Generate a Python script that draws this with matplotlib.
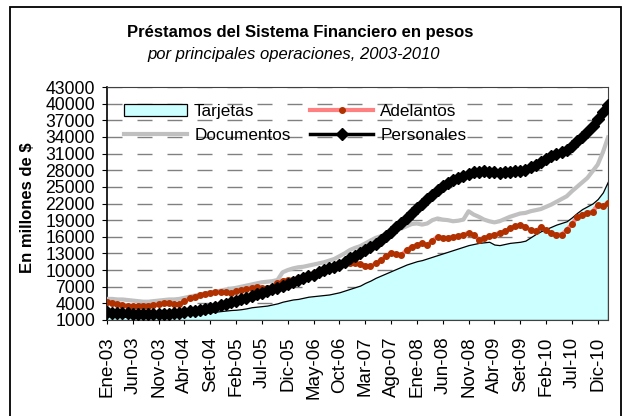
import numpy as np
import matplotlib
matplotlib.use("Agg")
import matplotlib.pyplot as plt
from matplotlib.patches import Rectangle

plt.rcParams['font.family'] = ['Liberation Sans', 'DejaVu Sans']

# monthly values, Ene-03 .. Feb-11 (millones de $)
tarjetas = [1700, 1650, 1600, 1600, 1550, 1550, 1550, 1600, 1600, 1650, 1700,
            1750, 1800, 1850, 1900, 1950, 2000, 2100, 2200, 2300, 2400,
            2500, 2600, 2700, 2800, 2850, 2950, 3100, 3300, 3400, 3500,
            3600, 3800, 4000, 4300, 4500, 4700, 4800, 5000, 5200, 5300,
            5400, 5500, 5600, 5800, 6000, 6300, 6600, 6900, 7200, 7700,
            8100, 8600, 9000, 9400, 9800, 10200, 10600, 11000, 11300, 11600,
            11800, 12100, 12400, 12700, 13000, 13300, 13600, 13900, 14200, 14500,
            14700, 14900, 15000, 15100, 14600, 14500, 14700, 14900, 15000, 15100,
            15300, 15900, 16500, 17000, 17400, 17800, 18200, 18500, 18800, 19500,
            20300, 21000, 21500, 22000, 22800, 24000, 26000]

adelantos = [4300, 4100, 3900, 3700, 3600, 3500, 3500, 3500, 3600, 3700, 3800,
             4000, 4100, 3900, 3800, 4400, 4900, 5100, 5500, 5700, 5800,
             6000, 6100, 6000, 5800, 6200, 6400, 6600, 6800, 7000, 6800,
             6700, 7000, 7600, 8100, 8250, 8300, 8500, 8800, 9100, 9400,
             9800, 10100, 10400, 10700, 11300, 11500, 11300, 11200, 11100, 10800,
             10700, 11200, 11800, 12500, 13000, 12900, 12700, 13600, 14200, 14500,
             14800, 14500, 15300, 16000, 15800, 15800, 16000, 16100, 16400, 16700,
             16300, 15500, 15700, 16100, 16400, 16700, 17000, 17500, 17900, 18100,
             17800, 17200, 17000, 17700, 17200, 16600, 16400, 16400, 17200, 18300,
             19500, 20000, 20300, 20500, 21700, 21600, 22100]

documentos = [4800, 4800, 4700, 4700, 4600, 4500, 4400, 4300, 4300, 4400, 4500,
              4600, 4700, 4700, 4800, 5000, 5200, 5400, 5600, 5800, 6000,
              6100, 6300, 6500, 6600, 6800, 7000, 7200, 7400, 7600, 7800,
              7900, 8000, 8200, 9600, 10000, 10300, 10500, 10600, 10800, 11000,
              11200, 11400, 11700, 12000, 12500, 13000, 13600, 14000, 14300, 14800,
              15300, 15800, 16100, 16500, 16900, 17200, 17500, 17900, 18300, 18400,
              18200, 18400, 19000, 19300, 19100, 19000, 18800, 18900, 19100, 20600,
              20000, 19600, 19100, 18800, 18600, 18800, 19200, 19600, 19900, 20200,
              20300, 20600, 20800, 21000, 21400, 21800, 22300, 22800, 23300, 24200,
              25000, 25800, 26600, 27800, 29000, 31200, 33900]

personales = [2400, 2350, 2300, 2250, 2200, 2150, 2100, 2050, 2000, 2000, 2050,
              2100, 2150, 2250, 2350, 2450, 2550, 2650, 2800, 3000, 3200,
              3400, 3650, 3900, 4200, 4450, 4750, 5050, 5350, 5650, 5950,
              6250, 6550, 6850, 7200, 7500, 7850, 8200, 8500, 8850, 9200,
              9600, 10000, 10300, 10600, 11000, 11500, 12100, 12600, 13100, 13600,
              14100, 14700, 15400, 16100, 16900, 17700, 18500, 19400, 20300, 21100,
              21900, 22800, 23600, 24400, 25100, 25700, 26200, 26600, 27000, 27300,
              27600, 27700, 27800, 27700, 27600, 27500, 27600, 27700, 27800, 27900,
              28100, 28500, 29000, 29500, 30000, 30500, 30900, 31300, 31700, 32400,
              33200, 34000, 34800, 36000, 37200, 38500, 39700]

tick_labels = ['Ene-03', 'Jun-03', 'Nov-03', 'Abr-04', 'Set-04', 'Feb-05', 'Jul-05',
               'Dic-05', 'May-06', 'Oct-06', 'Mar-07', 'Ago-07', 'Ene-08', 'Jun-08',
               'Nov-08', 'Abr-09', 'Set-09', 'Feb-10', 'Jul-10', 'Dic-10']

x = np.arange(len(personales))

fig = plt.figure(figsize=(6.28, 4.16), dpi=100)
ax = fig.add_axes([107/628, 1-320/416, 501/628, 233/416])

# outer chart border
fig.patches.append(Rectangle((10/628, -0.05), 611/628, 1.05-7/416, transform=fig.transFigure,
                             fill=False, edgecolor='black', linewidth=1.3))

area = ax.fill_between(x, 1000, tarjetas, facecolor='#CCFFFF', edgecolor='black',
                       linewidth=0.9, zorder=2)
doc_line, = ax.plot(x, documentos, color='#C0C0C0', lw=3, zorder=3)
ade_line, = ax.plot(x, adelantos, color='#FF8080', lw=3, marker='o', markersize=4,
                    markerfacecolor='#B03000', markeredgecolor='#B03000', zorder=4)
per_line, = ax.plot(x, personales, color='black', lw=2.5, marker='D', markersize=6.5,
                    zorder=5)

ax.set_xlim(0, len(x) - 1)
ax.set_ylim(1000, 43000)
ax.set_yticks(range(1000, 43001, 3000))
ax.tick_params(axis='y', labelsize=12.7, direction='out', length=3.6, pad=5)
ax.set_xticks(range(0, 96, 5))
ax.set_xticklabels(tick_labels, rotation=90, fontsize=13.5)
ax.tick_params(axis='x', direction='out', length=3, pad=9)

ax.yaxis.grid(True, color='#808080', lw=1, dashes=(10.8, 10.8))
ax.set_axisbelow(True)
for side in ['top', 'right', 'bottom']:
    ax.spines[side].set_color('#404040')
    ax.spines[side].set_linewidth(0.8)
ax.spines['left'].set_linewidth(1.2)

# column-major: col 1 = Tarjetas/Documentos, col 2 = Adelantos/Personales
ax.legend([area, doc_line, ade_line, per_line],
          ['Tarjetas', 'Documentos', 'Adelantos', 'Personales'],
          loc='upper left', bbox_to_anchor=(0.0, 1.0), ncol=2, frameon=False,
          fontsize=12.3, handlelength=3.7, handletextpad=0.4, columnspacing=1.15,
          labelspacing=0.5, borderaxespad=0.6)

fig.text(27/628, 0.501, 'En millones de $', rotation=90, fontsize=12,
         fontweight='bold', ha='center', va='center')
fig.text(300/628, 1-32/416, 'Préstamos del Sistema Financiero en pesos', fontsize=12,
         fontweight='bold', ha='center', va='center')
fig.text(294/628, 1-55/416, 'por principales operaciones, 2003-2010', fontsize=12,
         style='italic', ha='center', va='center')

fig.savefig('out.png', dpi=100)
